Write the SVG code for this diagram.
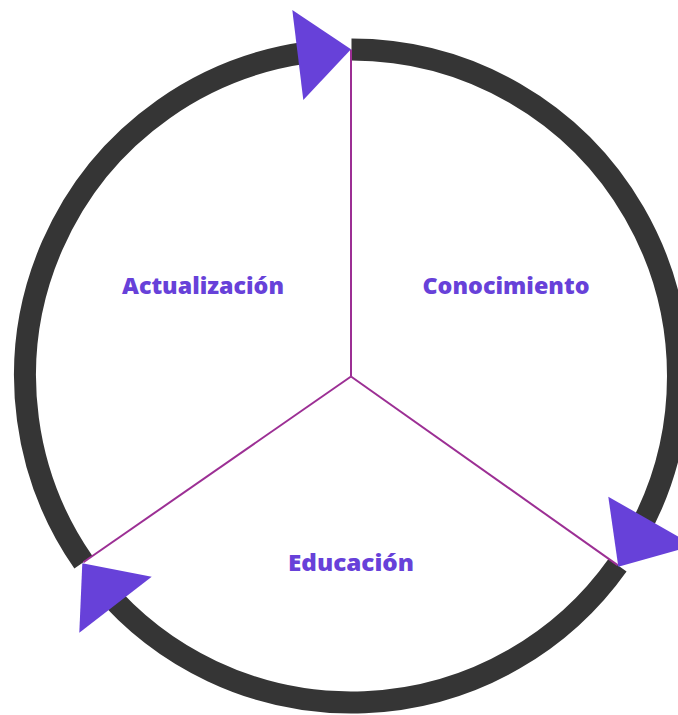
<svg xmlns="http://www.w3.org/2000/svg" width="678" height="715" viewBox="0 0 678 715">
<style>
.arc{fill:none;stroke:#353535;stroke-width:22;stroke-linecap:butt}
.spoke{stroke:#9c2f94;stroke-width:2;fill:none}
.head{fill:#6741d9}
.lbl{font-family:"Open Sans","Liberation Sans",sans-serif;font-weight:800;font-size:22.5px;fill:#6741d9;text-anchor:middle}
</style>
<rect width="678" height="715" fill="#ffffff"/>
<g id="connectors">
<path class="arc" d="M351.5,49.5 A326.5,326.5 0 0 1 634.26,539.25"/>
<path class="arc" d="M617.6,565.1 A326.5,326.5 0 0 1 101.4,585.9"/>
<path class="arc" d="M83.4,562.3 A326.5,326.5 0 0 1 306.1,52.7"/>
<line class="spoke" x1="351" y1="376.5" x2="351" y2="49.5"/>
<line class="spoke" x1="351" y1="376.5" x2="617.6" y2="565.1"/>
<line class="spoke" x1="351" y1="376.5" x2="83.4" y2="562.3"/>
<polygon class="head" points="292.3,10 351,49.3 303.3,100"/>
<polygon class="head" points="608.3,496.7 694,545.6 618.3,566.7"/>
<polygon class="head" points="82.3,563.3 151.7,576.7 79.3,632.7"/>
</g>
<g id="node-actualizacion"><text class="lbl" x="203" y="293.5" textLength="162" lengthAdjust="spacingAndGlyphs">Actualización</text></g>
<g id="node-conocimiento"><text class="lbl" x="506" y="293.5" textLength="167" lengthAdjust="spacingAndGlyphs">Conocimiento</text></g>
<g id="node-educacion"><text class="lbl" x="351" y="570.5" textLength="126" lengthAdjust="spacingAndGlyphs">Educación</text></g>
</svg>
